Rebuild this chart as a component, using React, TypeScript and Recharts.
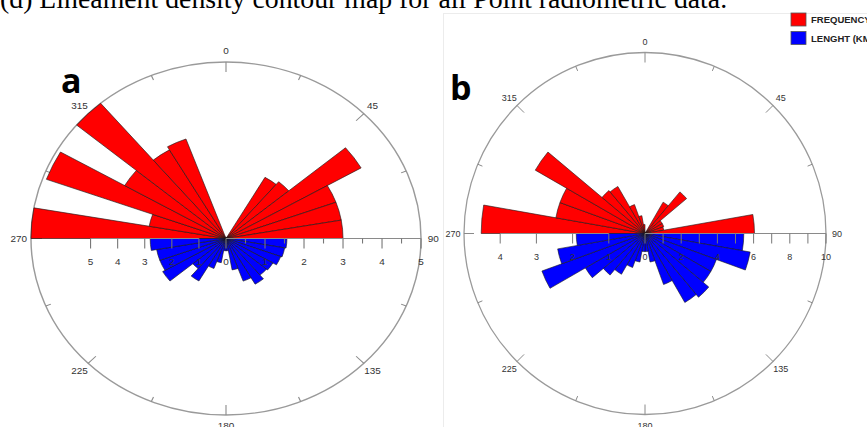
import React from "react";
import { RadialBarChart, RadialBar, RadarChart, Radar, PolarAngleAxis, PolarRadiusAxis } from "recharts";

// 10 degree direction bins, clockwise from north
const BINS = [
  "0", "10", "20", "30", "40", "50", "60", "70", "80",
  "90", "100", "110", "120", "130", "140", "150", "160", "170",
  "180", "190", "200", "210", "220", "230", "240", "250", "260",
  "270", "280", "290", "300", "310", "320", "330", "340", "350",
];

// panel a
const A_FREQ = [
  0, 0, 0, 2.0, 2.1, 4.0, 3.0, 3.0, 3.0,
  0, 0, 0, 0, 0, 0, 0, 0, 0,
  0, 0, 0, 0, 0, 0, 0, 0, 0,
  5.0, 2.0, 4.9, 3.0, 5.0, 2.9, 3.0, 0, 0,
];
const A_LEN = [
  0, 0, 0, 0, 0, 0, 0, 0, 0,
  2.25, 2.2, 2.15, 2.0, 1.95, 2.15, 1.85, 1.3, 0.5,
  0.5, 1.0, 1.3, 2.0, 1.6, 2.7, 2.6, 2.6, 2.8,
  0, 0, 0, 0, 0, 0, 0, 0, 0,
];

// panel b
const B_FREQ = [
  0, 0, 0, 2.0, 3.0, 1.1, 1.1, 1.05, 6.05,
  0, 0, 0, 0, 0, 0, 0, 0, 0,
  0, 0, 0, 0, 0, 0, 0, 0, 0,
  9.05, 5.0, 5.0, 7.0, 3.1, 3.0, 1.7, 1.0, 0.5,
];
const B_LEN = [
  0, 0, 0, 0, 0, 0, 0, 0, 0,
  2.73, 2.95, 2.1, 2.1, 2.3, 2.2, 1.5, 0.8, 0.5,
  0.5, 0.8, 1.0, 1.3, 1.5, 1.9, 3.03, 2.45, 1.9,
  0, 0, 0, 0, 0, 0, 0, 0, 0,
];

const COMPASS_TICKS = [0, 22.5, 45, 67.5, 90, 112.5, 135, 157.5, 180, 202.5, 225, 247.5, 270, 292.5, 315, 337.5];

const A_RIGHT_TICKS = [0, 0.5, 1, 1.5, 2, 2.5, 3, 3.5, 4, 4.5, 5];
const A_RIGHT_LABELS = [0, 1, 2, 3, 4, 5];
const A_LEFT_TICKS = [1, 2, 3, 4, 5];
const B_RIGHT_TICKS = [0, 1, 2, 3, 4, 5, 6, 7, 8, 9, 10];
const B_RIGHT_LABELS = [0, 2, 4, 6, 8, 10];
const B_LEFT_TICKS = [1, 2, 3, 4];

const FONT = "'Liberation Sans', Arial, sans-serif";
const LABEL_OFF = 11;

function CompassTick(props: any) {
  const { x, y, payload } = props;
  const v = Number(payload.value);
  const a = (payload.coordinate * Math.PI) / 180;
  const ux = Math.cos(a);
  const uy = -Math.sin(a);
  const major = v % 45 === 0;
  const len = major ? 10 : 5;
  const ox = x - LABEL_OFF * ux;
  const oy = y - LABEL_OFF * uy;
  return (
    <g>
      <line x1={ox} y1={oy} x2={ox - len * ux} y2={oy - len * uy} stroke="#8a8a8a" strokeWidth={1} />
      {major && (
        <text x={x} y={y} textAnchor="middle" dominantBaseline="central" fontSize={9} fontFamily={FONT} fill="#333">
          {v}
        </text>
      )}
    </g>
  );
}

const radiusTick = (labels: number[], halfStep: boolean) => (props: any) => {
  const { x, y, payload } = props;
  const v = payload.value;
  const major = !halfStep || Number.isInteger(v);
  return (
    <g>
      <line x1={x} y1={y} x2={x} y2={y + (major ? 10 : 5)} stroke="#777" strokeWidth={1} />
      {labels.includes(v) && (
        <text x={x} y={y + 23} textAnchor="middle" dominantBaseline="central" fontSize={9} fontFamily={FONT} fill="#333">
          {v}
        </text>
      )}
    </g>
  );
};

interface RingProps {
  width: number;
  height: number;
  cx: number;
  cy: number;
  r: number;
}

// outer compass circle with 22.5 degree ticks
function CompassRing({ width, height, cx, cy, r }: RingProps) {
  const data = COMPASS_TICKS.map((d) => ({ d, v: 0 }));
  return (
    <RadarChart
      width={width}
      height={height}
      cx={cx}
      cy={cy}
      outerRadius={r}
      startAngle={90}
      endAngle={-270}
      data={data}
      margin={{ top: 0, right: 0, bottom: 0, left: 0 }}
    >
      <PolarAngleAxis
        dataKey="d"
        type="category"
        tick={CompassTick}
        tickLine={false}
        tickSize={LABEL_OFF}
        axisLine={{ stroke: "#9a9a9a", strokeWidth: 1.3 }}
        axisLineType="circle"
      />
      <Radar dataKey="v" fill="none" stroke="none" dot={false} isAnimationActive={false} />
    </RadarChart>
  );
}

interface RoseProps extends RingProps {
  freq: number[];
  len: number[];
  freqMax: number;
  lenMax: number;
  rightTicks: number[];
  rightLabels: number[];
  leftTicks: number[];
  halfStep: boolean;
}

function Rose({ freq, len, width, height, cx, cy, r, freqMax, lenMax, rightTicks, rightLabels, leftTicks, halfStep }: RoseProps) {
  const data = BINS.map((bin, i) => ({ bin, freq: freq[i], len: len[i] }));
  return (
    <RadialBarChart
      width={width}
      height={height}
      cx={cx}
      cy={cy}
      innerRadius={0}
      outerRadius={r}
      startAngle={80}
      endAngle={-280}
      layout="centric"
      barCategoryGap={0}
      data={data}
      margin={{ top: 0, right: 0, bottom: 0, left: 0 }}
    >
      <PolarAngleAxis angleAxisId="fa" type="category" dataKey="bin" hide tick={false} axisLine={false} tickLine={false} />
      <PolarAngleAxis angleAxisId="la" type="category" dataKey="bin" hide tick={false} axisLine={false} tickLine={false} />
      <PolarRadiusAxis
        radiusAxisId="fr"
        angle={0}
        type="number"
        domain={[0, freqMax]}
        allowDataOverflow
        ticks={rightTicks}
        tick={radiusTick(rightLabels, halfStep)}
        tickLine={false}
        axisLine={{ stroke: "#8a8a8a", strokeWidth: 1 }}
      />
      <PolarRadiusAxis
        radiusAxisId="lr"
        angle={180}
        type="number"
        domain={[0, lenMax]}
        allowDataOverflow
        ticks={leftTicks}
        tick={radiusTick(leftTicks, false)}
        tickLine={false}
        axisLine={{ stroke: "#8a8a8a", strokeWidth: 1 }}
      />
      <RadialBar
        dataKey="freq"
        angleAxisId="fa"
        radiusAxisId="fr"
        fill="#ff0000"
        stroke="#1a1a1a"
        strokeWidth={0.6}
        isAnimationActive={false}
      />
      <RadialBar
        dataKey="len"
        angleAxisId="la"
        radiusAxisId="lr"
        fill="#0000ff"
        stroke="#1a1a1a"
        strokeWidth={0.6}
        isAnimationActive={false}
      />
    </RadialBarChart>
  );
}

const layer: React.CSSProperties = { position: "absolute", left: 0, top: 0 };

export default function App() {
  const aBox = { width: 440, height: 427, cx: 226, cy: 238.5, r: 176.5 };
  const bBox = { width: 427, height: 427, cx: 205, cy: 233.5, r: 181 };
  return (
    <div style={{ position: "absolute", left: 0, top: 0, width: 867, height: 427, overflow: "hidden", background: "#fff" }}>
      <div
        style={{
          position: "absolute",
          left: 443,
          top: 13,
          width: 440,
          height: 430,
          border: "1px solid #ececec",
        }}
      />
      <div
        style={{
          position: "absolute",
          left: 0,
          top: 0,
          width: 440,
          height: 427,
          transform: "scaleX(1.105)",
          transformOrigin: "226px 238.5px",
        }}
      >
        <div style={layer}>
          <CompassRing {...aBox} />
        </div>
        <div style={layer}>
          <Rose
            {...aBox}
            freq={A_FREQ}
            len={A_LEN}
            freqMax={5}
            lenMax={7.2}
            rightTicks={A_RIGHT_TICKS}
            rightLabels={A_RIGHT_LABELS}
            leftTicks={A_LEFT_TICKS}
            halfStep
          />
        </div>
      </div>
      <div style={{ position: "absolute", left: 440, top: 0, width: 427, height: 427 }}>
        <div style={layer}>
          <CompassRing {...bBox} />
        </div>
        <div style={layer}>
          <Rose
            {...bBox}
            freq={B_FREQ}
            len={B_LEN}
            freqMax={10}
            lenMax={4.93}
            rightTicks={B_RIGHT_TICKS}
            rightLabels={B_RIGHT_LABELS}
            leftTicks={B_LEFT_TICKS}
            halfStep={false}
          />
        </div>
      </div>
      <svg width={867} height={427} style={{ position: "absolute", left: 0, top: 0, pointerEvents: "none" }}>
        <text x={0} y={8} fontSize={27.8} fontFamily="'Liberation Serif', 'Times New Roman', serif" fill="#000">
          (d) Lineament density contour map for all Point radiometric data.
        </text>
        <text x={61} y={93} fontSize={34} fontWeight="bold" fontFamily="'Open Sans', sans-serif" fill="#000">
          a
        </text>
        <text x={450} y={100} fontSize={34} fontWeight="bold" fontFamily="'Open Sans', sans-serif" fill="#000">
          b
        </text>
        <rect x={791} y={13} width={15} height={13} fill="#ff0000" stroke="#555" strokeWidth={0.8} />
        <rect x={791} y={31.5} width={15} height={13} fill="#0000ff" stroke="#555" strokeWidth={0.8} />
        <text x={811} y={23} fontSize={9.5} fontWeight="bold" fontFamily={FONT} fill="#222">
          FREQUENCY
        </text>
        <text x={811} y={42} fontSize={9.5} fontWeight="bold" fontFamily={FONT} fill="#222">
          LENGHT (KM)
        </text>
      </svg>
    </div>
  );
}
